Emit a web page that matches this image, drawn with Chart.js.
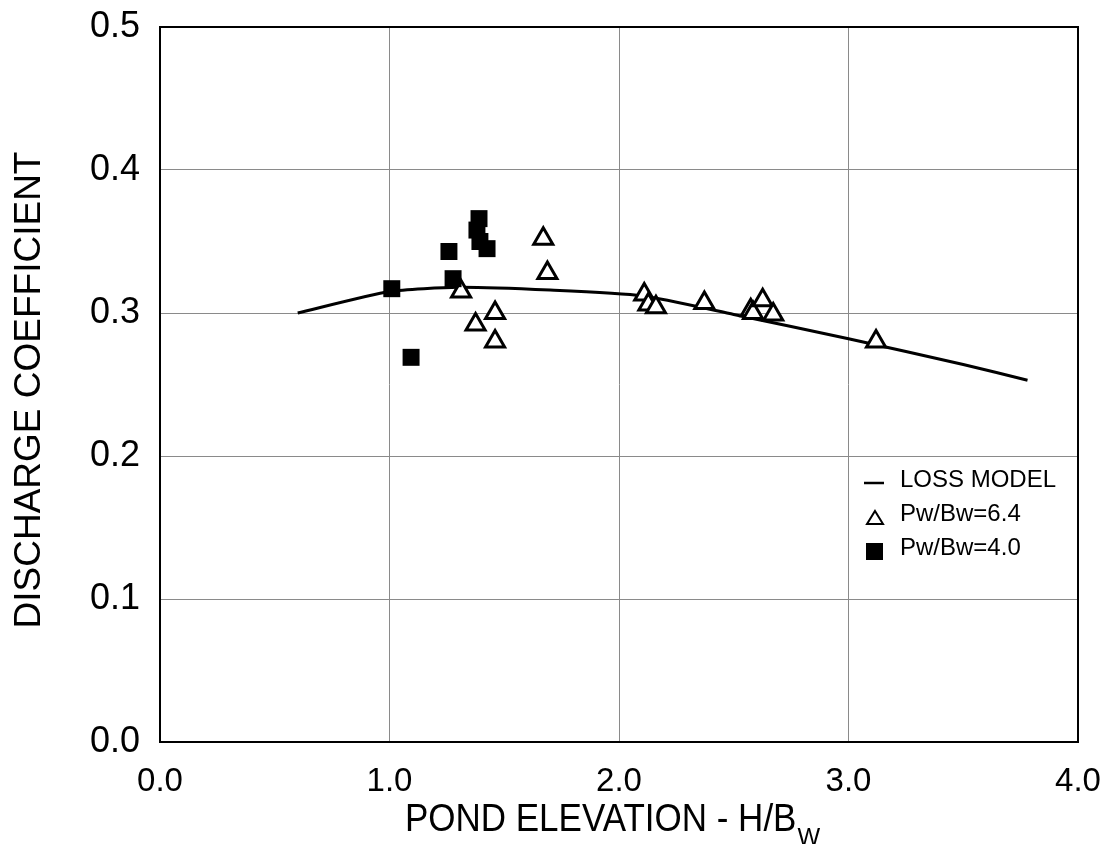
<!DOCTYPE html>
<html>
<head>
<meta charset="utf-8">
<script src="https://cdn.jsdelivr.net/npm/chart.js@4.4.0/dist/chart.umd.min.js"></script>
<style>
  html, body { margin: 0; padding: 0; background: #fff; }
  canvas { display: block; }
</style>
</head>
<body>
<canvas id="chart" width="1107" height="844"></canvas>
<script>
// loss model curve
const lossX = [0.6, 1.0, 1.3, 1.7, 2.1, 2.5, 3.0, 3.5, 3.78];
const lossY = [0.300, 0.315, 0.318, 0.316, 0.312, 0.299, 0.282, 0.264, 0.253];

// Pw/Bw = 6.4 (open triangles)
const pw64X = [1.312, 1.375, 1.46, 1.46, 1.67, 1.688, 2.11, 2.128, 2.161, 2.372, 2.574, 2.584, 2.626, 2.672, 3.12];
const pw64Y = [0.315, 0.292, 0.300, 0.280, 0.352, 0.328, 0.313, 0.306, 0.304, 0.307, 0.302, 0.300, 0.309, 0.299, 0.280];

// Pw/Bw = 4.0 (filled squares)
const pw40X = [1.01, 1.094, 1.259, 1.277, 1.381, 1.39, 1.394, 1.425];
const pw40Y = [0.317, 0.269, 0.343, 0.324, 0.358, 0.366, 0.350, 0.345];

const xTicks = [0, 1, 2, 3, 4];
const yTicks = [0, 0.1, 0.2, 0.3, 0.4, 0.5];

const legendLabels = ["LOSS MODEL", "Pw/Bw=6.4", "Pw/Bw=4.0"];
const xTitle = "POND ELEVATION - H/B";
const xTitleSub = "W";
const yTitle = "DISCHARGE COEFFICIENT";

const FONT = "'Liberation Sans', Arial, Helvetica, sans-serif";

function toPts(xs, ys){ return xs.map((x, i) => ({ x: x, y: ys[i] })); }

// frame, titles and legend drawn by hand
const extras = {
  id: "extras",
  afterDatasetsDraw(chart){
    const ctx = chart.ctx;
    const a = chart.chartArea;
    ctx.save();
    ctx.strokeStyle = "#000";
    ctx.lineWidth = 2;
    ctx.strokeRect(a.left, a.top, a.right - a.left, a.bottom - a.top);

    ctx.fillStyle = "#000";
    // x title with subscript
    ctx.font = "35px " + FONT;
    const w = ctx.measureText(xTitle).width;
    ctx.font = "24px " + FONT;
    const ws = ctx.measureText(xTitleSub).width;
    const left = 612 - (w + ws) / 2;
    ctx.save();
    ctx.translate(0, 820);
    ctx.scale(1, 1.12);
    ctx.textBaseline = "middle";
    ctx.textAlign = "left";
    ctx.font = "35px " + FONT;
    ctx.fillText(xTitle, left, 0);
    ctx.restore();
    ctx.font = "24px " + FONT;
    ctx.textBaseline = "middle";
    ctx.fillText(xTitleSub, left + w + 1, 838);

    // y title
    ctx.save();
    ctx.translate(30, 390);
    ctx.rotate(-Math.PI / 2);
    ctx.textAlign = "center";
    ctx.textBaseline = "middle";
    ctx.font = "37px " + FONT;
    ctx.fillText(yTitle, 0, 0);
    ctx.restore();

    // legend
    const lx = 875, tx = 900;
    const rows = [480, 514, 548];
    ctx.font = "24px " + FONT;
    ctx.textAlign = "left";
    ctx.textBaseline = "middle";
    legendLabels.forEach((t, i) => ctx.fillText(t, tx, rows[i]));
    ctx.lineWidth = 2.5;
    ctx.beginPath();
    ctx.moveTo(864, 483); ctx.lineTo(884, 483);
    ctx.stroke();
    ctx.beginPath();
    ctx.moveTo(lx, 511); ctx.lineTo(lx + 8, 524); ctx.lineTo(lx - 8, 524); ctx.closePath();
    ctx.lineWidth = 2;
    ctx.stroke();
    ctx.fillRect(lx - 9, 543, 17, 17);
    ctx.restore();
  }
};

new Chart(document.getElementById("chart"), {
  type: "scatter",
  data: {
    datasets: [
      {
        label: legendLabels[2],
        data: toPts(pw40X, pw40Y),
        pointStyle: "rect",
        pointRadius: 12,
        backgroundColor: "#000",
        borderColor: "#000",
        borderWidth: 0
      },
      {
        label: legendLabels[1],
        data: toPts(pw64X, pw64Y),
        pointStyle: "triangle",
        pointRadius: 11,
        backgroundColor: "#fff",
        borderColor: "#000",
        borderWidth: 3
      },
      {
        type: "line",
        label: legendLabels[0],
        data: toPts(lossX, lossY),
        showLine: true,
        borderColor: "#000",
        borderWidth: 3,
        pointRadius: 0,
        fill: false,
        tension: 0.2
      }
    ]
  },
  options: {
    responsive: false,
    animation: false,
    layout: { padding: { top: 27, right: 29, left: 0, bottom: 0 } },
    plugins: { legend: { display: false }, tooltip: { enabled: false } },
    scales: {
      x: {
        type: "linear",
        min: 0, max: 4,
        afterBuildTicks: s => { s.ticks = xTicks.map(v => ({ value: v })); },
        afterFit: s => { s.height = 102; s.paddingLeft = 0; s.paddingRight = 0; },
        grid: { color: "#8a8a8a", lineWidth: 1, drawTicks: false },
        border: { display: false },
        ticks: {
          color: "#000",
          padding: 20,
          font: { family: FONT, size: 33 },
          callback: v => Number(v).toFixed(1)
        }
      },
      y: {
        min: 0, max: 0.5,
        afterBuildTicks: s => { s.ticks = yTicks.map(v => ({ value: v })); },
        afterFit: s => { s.width = 160; s.paddingTop = 0; s.paddingBottom = 0; },
        grid: { color: "#8a8a8a", lineWidth: 1, drawTicks: false },
        border: { display: false },
        ticks: {
          color: "#000",
          padding: 20,
          font: { family: FONT, size: 36 },
          callback: v => Number(v).toFixed(1)
        }
      }
    }
  },
  plugins: [extras]
});
</script>
</body>
</html>
